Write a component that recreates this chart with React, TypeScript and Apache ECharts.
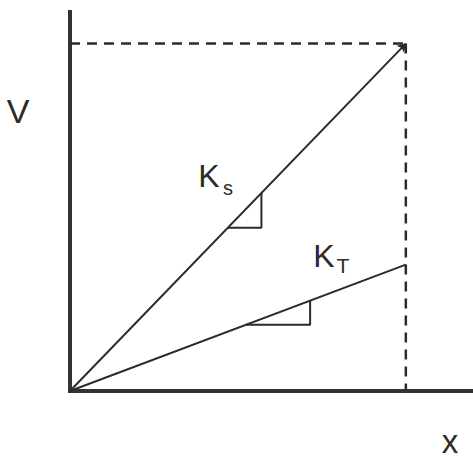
import React, { useEffect, useRef } from "react";
import * as echarts from "echarts";

// Axis ranges (abstract units, no tick labels shown)
const xRange = [0, 12];
const yRange = [0, 12];

// Line endpoints: start at the origin
const ksLine = [[0, 0], [10, 11]];
const ktLine = [[0, 0], [10, 4]];

// Slope triangles drawn under each line
const ksTriangle = [[4.7, 5.17], [5.7, 5.17], [5.7, 6.27]];
const ktTriangle = [[5.25, 2.1], [7.15, 2.1], [7.15, 2.86]];

// Dashed guide lines to the end of the upper line
const guideHorizontal = [[0, 11], [10, 11]];
const guideVertical = [[10, 11], [10, 0]];

const INK = "#2b2b2b";
const FONT = "Liberation Sans, Arial, sans-serif";

export default function App() {
  const ref = useRef<HTMLDivElement>(null);

  useEffect(() => {
    if (!ref.current) return;
    const chart = echarts.init(ref.current, null, { renderer: "svg" });

    const hiddenAxis = (range: number[]) => ({
      type: "value" as const,
      min: range[0],
      max: range[1],
      axisLine: { show: true, lineStyle: { color: "#333", width: 4, cap: "square" } },
      axisTick: { show: false },
      axisLabel: { show: false },
      splitLine: { show: false },
    });

    const plain = (data: number[][], extra: any = {}) => ({
      type: "line",
      data,
      showSymbol: false,
      symbol: "none",
      silent: true,
      lineStyle: { color: INK, width: 2, ...extra },
      z: 3,
    });

    const label = (text: string, x: number, y: number, size: number) => ({
      type: "text",
      x,
      y,
      style: {
        text,
        font: `${size}px ${FONT}`,
        lineHeight: Math.round(size * 0.9),
        fill: INK,
        textAlign: "center",
        textVerticalAlign: "middle",
      },
    });

    chart.setOption({
      animation: false,
      grid: { left: 70, top: 12, width: 408, height: 379 },
      xAxis: hiddenAxis(xRange),
      yAxis: hiddenAxis(yRange),
      series: [
        plain(guideHorizontal, { type: [10, 7], width: 2.5 }),
        plain(guideVertical, { type: [10, 7], width: 2.5 }),
        {
          type: "lines",
          coordinateSystem: "cartesian2d",
          silent: true,
          symbol: ["none", "arrow"],
          symbolSize: 8,
          lineStyle: { color: INK, width: 2, opacity: 1 },
          data: [{ coords: ksLine }],
          z: 4,
        },
        plain(ktLine),
        plain(ksTriangle, { width: 2 }),
        plain(ktTriangle, { width: 2 }),
      ],
      graphic: [
        label("V", 18, 111, 34),
        label("x", 450, 441, 33),
        label("K", 209, 176, 32),
        label("s", 228, 188, 20),
        label("K", 324, 256, 32),
        label("T", 343, 265, 21),
      ],
    });

    return () => chart.dispose();
  }, []);

  return (
    <div
      ref={ref}
      style={{ position: "absolute", left: 0, top: 0, width: 473, height: 458, background: "#fff" }}
    />
  );
}
